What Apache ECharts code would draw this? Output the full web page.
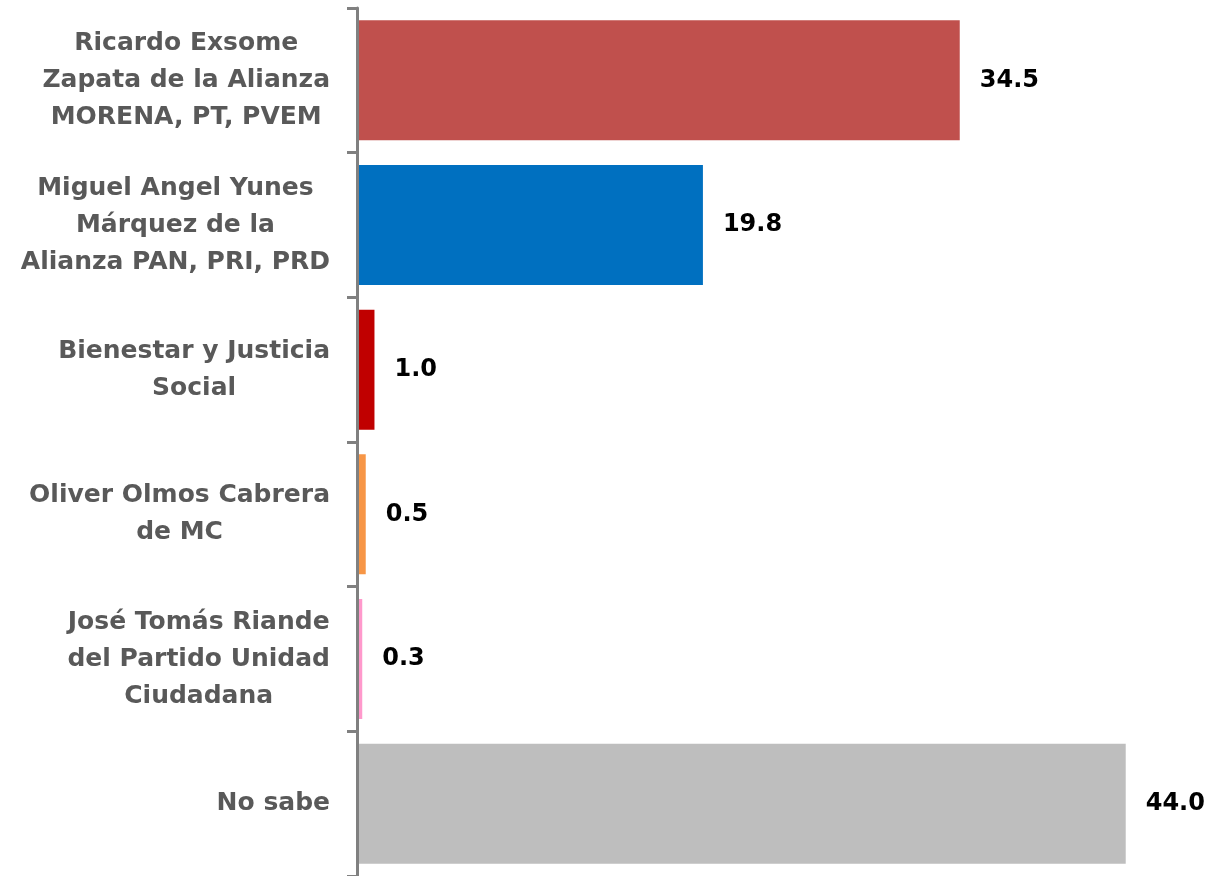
<!DOCTYPE html>
<html>
<head>
<meta charset="utf-8">
<script src="https://cdn.jsdelivr.net/npm/echarts@6/dist/echarts.min.js"></script>
<style>html,body{margin:0;padding:0;background:#fff}#c{width:1209px;height:876px}</style>
</head>
<body>
<div id="c"></div>
<script>
const categories = [
  "Ricardo Exsome\nZapata de la Alianza\nMORENA, PT, PVEM",
  "Miguel Angel Yunes\nMárquez de la\nAlianza PAN, PRI, PRD",
  "Bienestar y Justicia\nSocial",
  "Oliver Olmos Cabrera\nde MC",
  "José Tomás Riande\ndel Partido Unidad\nCiudadana",
  "No sabe"
];
const values = [34.5, 19.8, 1.0, 0.5, 0.3, 44.0];
const colors = ["#C0504D", "#0070C0", "#C00000", "#F79646", "#FF99CC", "#BEBEBE"];

const chart = echarts.init(document.getElementById('c'));
chart.setOption({
  animation: false,
  grid: { left: 357, top: 8, height: 870, width: 838.6 },
  xAxis: {
    type: 'value', min: 0, max: 48, show: false
  },
  yAxis: {
    type: 'category', inverse: true, data: categories, z: 5,
    axisLine: { show: true, lineStyle: { color: '#808080', width: 3 } },
    axisTick: { show: true, length: 10, lineStyle: { color: '#808080', width: 3 } },
    axisLabel: {
      margin: 27, align: 'right', lineHeight: 37,
      color: '#595959', fontFamily: 'DejaVu Sans', fontWeight: 'bold', fontSize: 25,
      formatter: function (v) { return v.split('\n').map(l => '{c|' + l + '}').join('\n'); },
      rich: { c: { align: 'center', color: '#595959', fontFamily: 'DejaVu Sans', fontWeight: 'bold', fontSize: 25, lineHeight: 37 } }
    }
  },
  series: [{
    type: 'bar',
    barWidth: 120,
    z: 2,
    data: values.map((v, i) => ({ value: v, itemStyle: { color: colors[i] } })),
    label: {
      show: true, position: 'right', distance: 20,
      formatter: p => p.value.toFixed(1),
      color: '#000', fontFamily: 'DejaVu Sans', fontWeight: 'bold', fontSize: 24
    }
  }]
});
</script>
</body>
</html>
